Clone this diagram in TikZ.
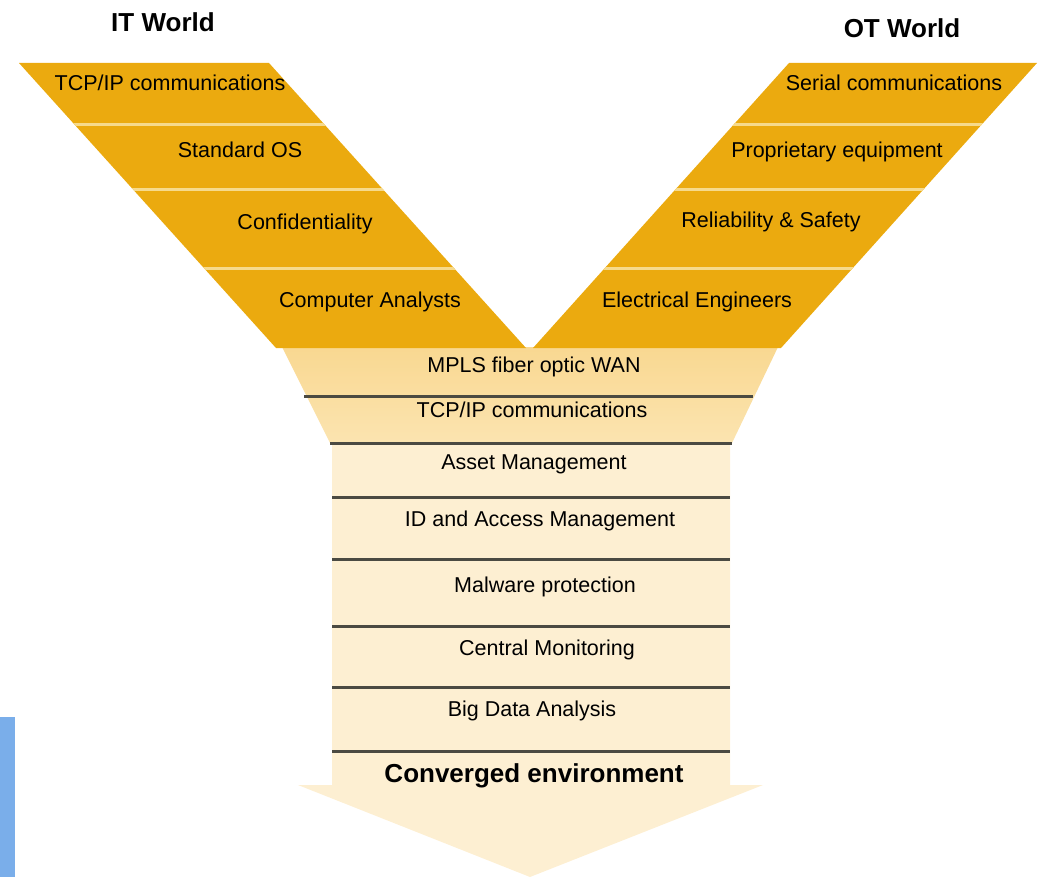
\documentclass[tikz,border=0pt]{standalone}
\usepackage{fontspec}
\setmainfont{Liberation Sans}

\definecolor{gold}{HTML}{EBAA0F}
\definecolor{goldsep}{HTML}{F6DA8C}
\definecolor{funtop}{HTML}{F9D891}
\definecolor{funmid}{HTML}{FBE4B0}
\definecolor{funlow}{HTML}{FDEFD2}
\definecolor{rulegray}{HTML}{4B4A42}
\definecolor{edgeblue}{HTML}{7AAEEA}

\tikzset{
  lbl/.style={font=\fontsize{21.5}{24}\selectfont, inner sep=0pt, text height=15.4pt, text depth=0pt},
  ttl/.style={font=\fontsize{26}{30}\selectfont\bfseries, inner sep=0pt, text height=18.6pt, text depth=0pt},
  sepline/.style={goldsep, line width=3pt},
  layerline/.style={rulegray, line width=3pt}
}

\begin{document}
\begin{tikzpicture}[x=1pt,y=-1pt]
\useasboundingbox (0,0) rectangle (1040,877);
% blue strip at the edge
\fill[edgeblue] (0,717) rectangle (15,877);
% funnel and arrow
\shade[top color=funtop, bottom color=funmid] (282,347) -- (778,347) -- (732,443) -- (330,443) -- cycle;
\fill[funlow] (332,443) -- (730,443) -- (730,785) -- (763,785) -- (530,877) -- (298,785) -- (332,785) -- cycle;
% IT band
\fill[gold] (19,63) -- (269,63) -- (526,348) -- (276,348) -- cycle;
\begin{scope}
\clip (19,63) -- (269,63) -- (526,348) -- (276,348) -- cycle;
\foreach \y in {125,190,268} \draw[sepline] (0,\y) -- (540,\y);
\end{scope}
% OT band
\fill[gold] (789,63) -- (1037,63) -- (781,348) -- (533,348) -- cycle;
\begin{scope}
\clip (789,63) -- (1037,63) -- (781,348) -- (533,348) -- cycle;
\foreach \y in {125,190,268} \draw[sepline] (520,\y) -- (1040,\y);
\end{scope}
% layer lines
\draw[layerline] (304,396) -- (753,396);
\draw[layerline] (330,443) -- (732,443);
\foreach \y in {497,559,626,687,751} \draw[layerline] (332,\y) -- (730,\y);
% titles
\node[ttl] (itw) at (163,22) {IT World};
\node[ttl] (otw) at (902,28) {OT World};
% IT rows
\node[lbl] (it1) at (170,83) {TCP/IP communications};
\node[lbl] (it2) at (240,150) {Standard OS};
\node[lbl] (it3) at (305,222) {Confidentiality};
\node[lbl] (it4) at (370,300) {Computer Analysts};
% OT rows
\node[lbl] (ot1) at (894,83) {Serial communications};
\node[lbl] (ot2) at (837,150) {Proprietary equipment};
\node[lbl] (ot3) at (771,220) {Reliability \& Safety};
\node[lbl] (ot4) at (697,300) {Electrical Engineers};
% converged layers
\node[lbl] (cv1) at (534,365) {MPLS fiber optic WAN};
\node[lbl] (cv2) at (532,410) {TCP/IP communications};
\node[lbl] (cv3) at (534,462) {Asset Management};
\node[lbl] (cv4) at (540,519) {ID and Access Management};
\node[lbl] (cv5) at (545,585) {Malware protection};
\node[lbl] (cv6) at (547,648) {Central Monitoring};
\node[lbl] (cv7) at (532,709) {Big Data Analysis};
\node[ttl] (conv) at (534,773) {Converged environment};
\end{tikzpicture}
\end{document}
